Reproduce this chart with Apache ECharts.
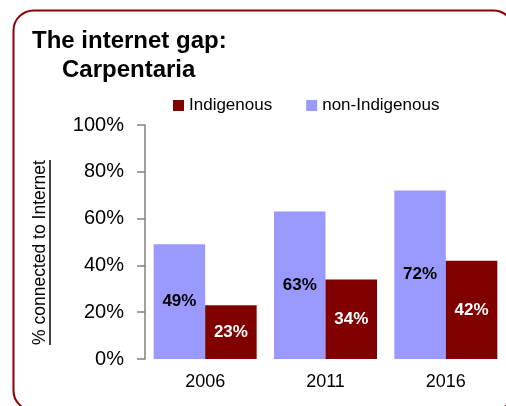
<!DOCTYPE html>
<html>
<head>
<meta charset="utf-8">
<script src="https://cdn.jsdelivr.net/npm/echarts@6/dist/echarts.min.js"></script>
<style>
html,body{margin:0;padding:0;background:#fff;}
#c{width:506px;height:406px;}
</style>
</head>
<body>
<div id="c"></div>
<script>
const categories = ['2006', '2011', '2016'];
const nonIndigenous = [49, 63, 72];
const indigenous = [23, 34, 42];
const yTicks = [0, 20, 40, 60, 80, 100];
const yAxisTitle = '% connected to Internet';

const FONT = '"Liberation Sans", Arial, Helvetica, sans-serif';
const chart = echarts.init(document.getElementById('c'), null, {renderer: 'canvas'});
chart.setOption({
  animation: false,
  backgroundColor: '#ffffff',
  textStyle: {fontFamily: FONT},
  title: [
    {text: 'The internet gap:', left: 32, top: 29, padding: 0,
     textStyle: {fontFamily: FONT, fontSize: 24, fontWeight: 'bold', color: '#000'}},
    {text: 'Carpentaria', left: 62, top: 58, padding: 0,
     textStyle: {fontFamily: FONT, fontSize: 24, fontWeight: 'bold', color: '#000'}}
  ],
  legend: {
    data: ['Indigenous', 'non-Indigenous'],
    left: 173, top: 97, padding: 0,
    itemWidth: 11, itemHeight: 11, itemGap: 34,
    icon: 'rect',
    textStyle: {fontFamily: FONT, fontSize: 17, color: '#000'}
  },
  grid: {left: 145, top: 125, height: 234, width: 370, containLabel: false},
  xAxis: {
    type: 'category',
    data: categories,
    axisLine: {show: false},
    axisTick: {show: false},
    axisLabel: {fontFamily: FONT, fontSize: 18, color: '#000', margin: 14}
  },
  yAxis: {
    type: 'value',
    min: yTicks[0], max: yTicks[yTicks.length - 1], interval: yTicks[1] - yTicks[0],
    axisLine: {show: true, lineStyle: {color: '#808080', width: 1.5}},
    axisTick: {show: true, length: 8, lineStyle: {color: '#808080', width: 1.5}},
    splitLine: {show: false},
    axisLabel: {fontFamily: FONT, fontSize: 20, color: '#000', margin: 21, formatter: '{value}%'}
  },
  series: [
    {
      name: 'non-Indigenous', type: 'bar', data: nonIndigenous,
      barWidth: 51.5, barGap: '0%',
      itemStyle: {color: '#9999FF'},
      label: {show: true, position: 'inside', formatter: '{c}%',
              fontFamily: FONT, fontSize: 17, fontWeight: 'bold', color: '#000'}
    },
    {
      name: 'Indigenous', type: 'bar', data: indigenous,
      barWidth: 51.5, barGap: '0%',
      itemStyle: {color: '#800000'},
      label: {show: true, position: 'inside', formatter: '{c}%',
              fontFamily: FONT, fontSize: 17, fontWeight: 'bold', color: '#fff'}
    }
  ],
  graphic: [
    {type: 'rect', z: -1, silent: true,
     shape: {x: 13.5, y: 10.5, width: 500, height: 400, r: 20},
     style: {fill: 'none', stroke: '#8B0000', lineWidth: 2}},
    {type: 'text', silent: true, x: 40, y: 252.5, rotation: Math.PI / 2,
     style: {text: yAxisTitle, font: '17.5px ' + FONT, fill: '#000',
             align: 'center', verticalAlign: 'middle'}},
    {type: 'line', silent: true,
     shape: {x1: 50, y1: 160, x2: 50, y2: 345},
     style: {stroke: '#000', lineWidth: 1.5}}
  ]
});
</script>
</body>
</html>
